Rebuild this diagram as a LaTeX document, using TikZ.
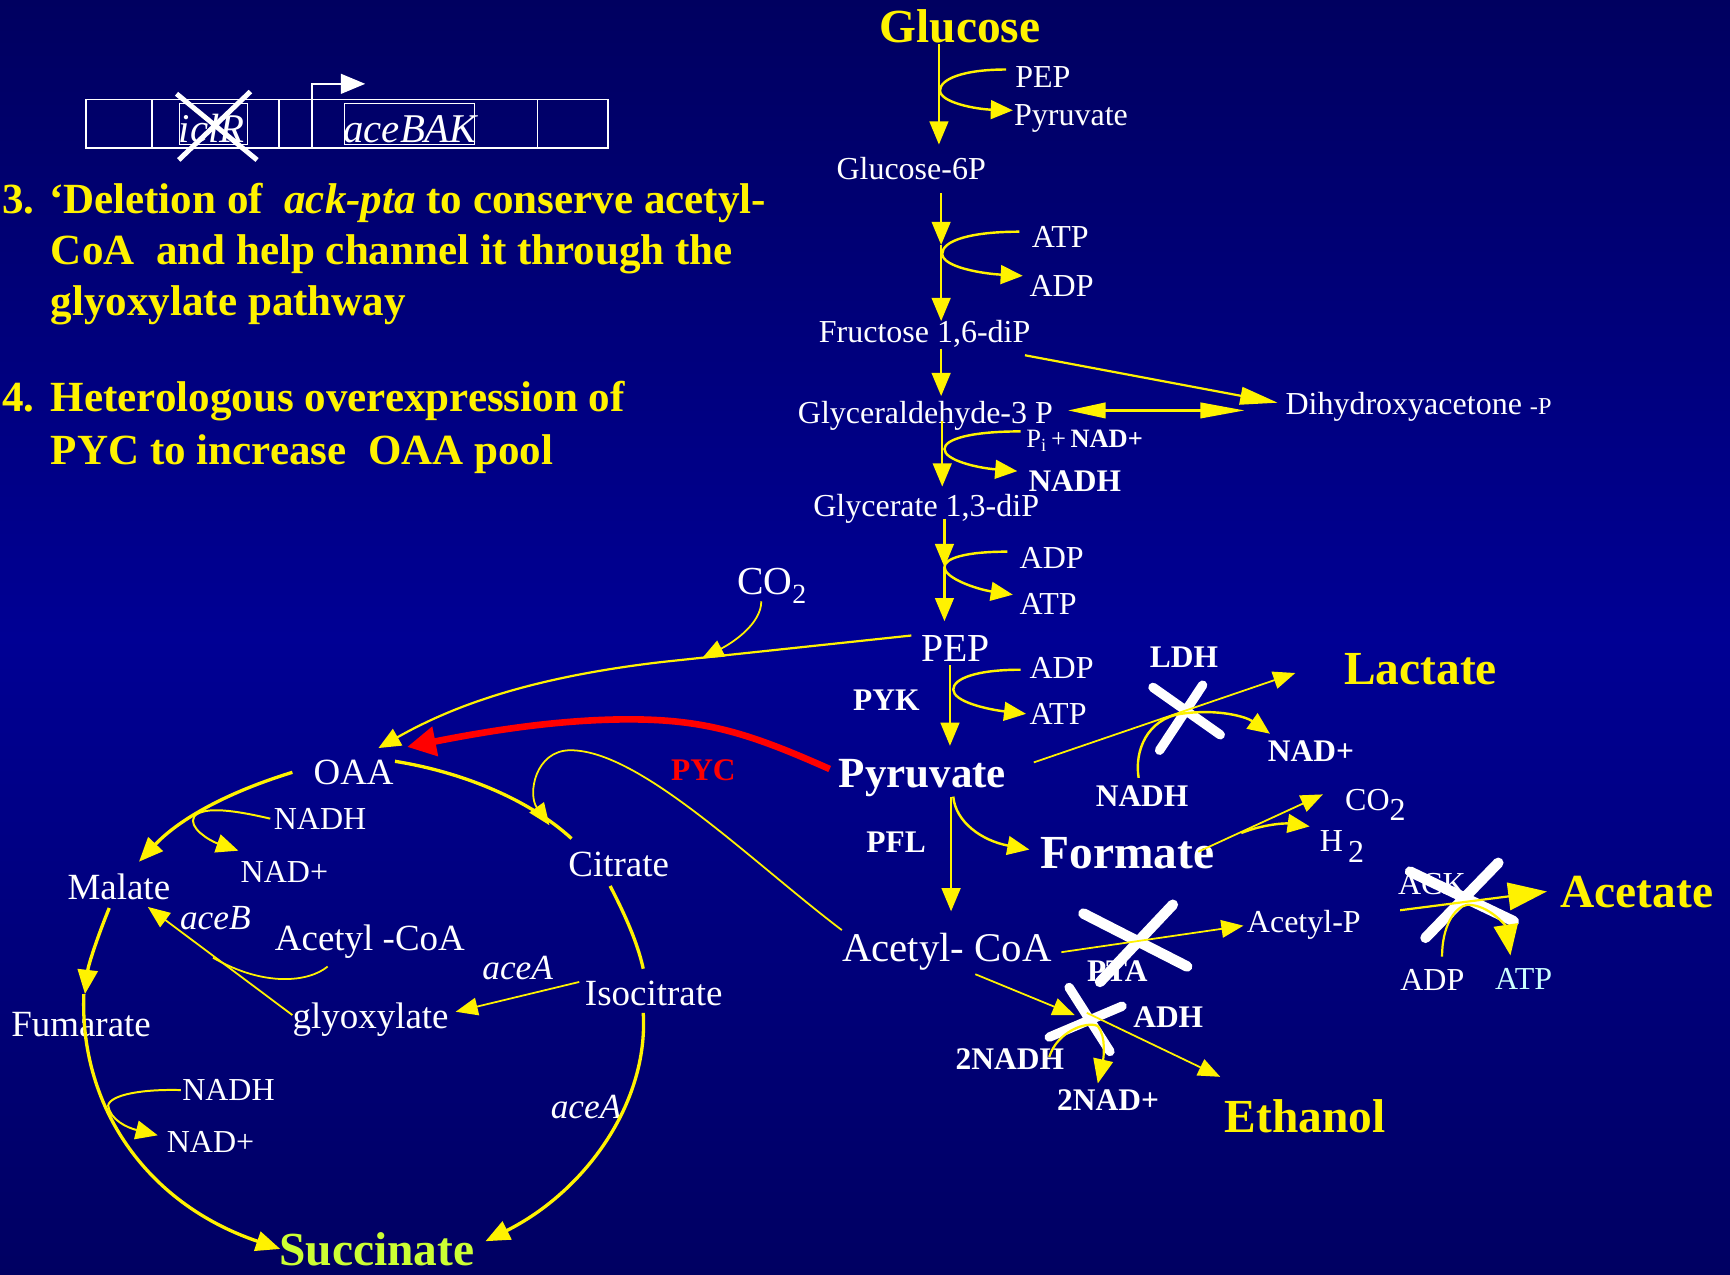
\documentclass[tikz,border=0pt]{standalone}
\usepackage{fontspec}
\setmainfont{Liberation Serif}
\usetikzlibrary{arrows.meta}
\newcommand\myfs[1]{\fontsize{#1}{#1}\selectfont}
\definecolor{bgtop}{RGB}{0,0,96}
\definecolor{bgmid}{RGB}{0,0,148}
\definecolor{bgbot}{RGB}{0,0,98}
\definecolor{succ}{RGB}{204,255,51}
\definecolor{atpc}{RGB}{204,255,255}
\begin{document}
\begin{tikzpicture}[x=1pt,y=-1pt,
  every node/.style={anchor=west,inner sep=0pt,text height=.66em,text depth=0pt},
  fz/.style n args={2}{font=\myfs{#1}#2,yshift={-(0.33*#1-3.3)*1pt}},
  lab/.style={text=white,fz={29}{}},
  labb/.style={text=white,fz={28.5}{\bfseries}},
  mid/.style={text=white,fz={33.5}{}},
  itl/.style={text=white,fz={32}{\itshape}},
  big/.style={text=yellow,fz={43}{\bfseries}},
  note/.style={text=yellow,fz={39}{\bfseries}},
  ar/.style={draw=yellow,line width=2pt,-{Triangle[length=21pt,width=17pt]}},
  sidear/.style={draw=yellow,line width=2.2pt,-{Triangle[length=20pt,width=17pt]}},
  thinln/.style={draw=yellow,line width=1.6pt},
  thinar/.style={thinln,-{Triangle[length=20pt,width=16pt]}},
  thickln/.style={draw=yellow,line width=3pt},
  thickar/.style={thickln,-{Triangle[length=22pt,width=18pt]}},
  knock/.style={draw=white,line width=8.5pt,line cap=round},
  gene/.style={draw=white,line width=1.4pt},
]
\useasboundingbox (0,0) rectangle (1568,1155);
\shade[top color=bgtop,bottom color=bgbot,middle color=bgmid] (0,0) rectangle (1568,1155);

% ---------------- notes ----------------
\node[note] (n3a) at (2,181) {3. ‘Deletion of\ \ \textit{ack-pta} to conserve acetyl-};
\node[note] (n3b) at (46,227) {CoA\ \ and help channel it through the};
\node[note] (n3c) at (46,273) {glyoxylate pathway};
\node[note] (n4n) at (2,360) {4.};
\node[note] (n4a) at (46,360) {Heterologous overexpression of};
\node[note] (n4b) at (46,408) {PYC to increase\ \ OAA pool};

% ---------------- gene box ----------------
\draw[gene] (78,90) rectangle (551,134);
\foreach \x in {138,253,283,487} \draw[gene] (\x,90) -- (\x,134);
\draw[gene,line width=1pt] (163,94) rectangle (224,131);
\draw[gene,line width=1pt] (312,94) rectangle (430,131);
\node[text=white,fz={37}{\itshape}] (icl) at (162,117) {iclR};
\node[text=white,fz={37}{\itshape}] (ace) at (311,117) {aceBAK};
\draw[gene,-{Triangle[length=22pt,width=18pt]}] (283,90) -- (283,76) -- (331,76);
\draw[white,line width=4.5pt] (160,85) -- (233,145) (227,83) -- (162,145);

% ---------------- glycolysis text ----------------
\node[big] (glc) at (797,24) {Glucose};
\node[lab] (pep1) at (920,70) {PEP};
\node[lab] (pyr1) at (919,104) {Pyruvate};
\node[lab] (g6p) at (758,153) {Glucose-6P};
\node[lab] (atp1) at (935,215) {ATP};
\node[lab] (adp1) at (933,259) {ADP};
\node[lab] (f16) at (742,301) {Fructose 1,6-diP};
\node[lab] (g3p) at (723,374) {Glyceraldehyde-3 P};
\node[lab] (dhap) at (1165,366) {Dihydroxyacetone {\myfs{22}-P}};
\node[text=white,fz={24}{}] (pi) at (930,398) {P\textsubscript{i}\,+\,\textbf{NAD+}};
\node[labb] (nadh1) at (932,436) {NADH};
\node[lab] (g13) at (737,459) {Glycerate 1,3-diP};
\node[lab] (adp2) at (924,506) {ADP};
\node[lab] (atp2) at (924,547) {ATP};
\node[text=white,fz={36}{}] (co2a) at (668,527) {CO\textsubscript{2}};
\node[text=white,fz={36}{}] (pep) at (835,588) {PEP};
\node[lab] (adp3) at (933,605) {ADP};
\node[lab] (atp3) at (933,647) {ATP};
\node[labb] (pyk) at (773,635) {PYK};
\node[text=white,fz={39}{\bfseries}] (pyr) at (760,701) {Pyruvate};
\node[text=red,fz={28.5}{\bfseries}] (pyc) at (608,698) {PYC};
\node[labb] (ldh) at (1042,596) {LDH};
\node[big] (lac) at (1218,606) {Lactate};
\node[labb] (nadp1) at (1149,681) {NAD+};
\node[labb] (nadh2) at (993,722) {NADH};
\node[lab] (co2b) at (1219,725) {CO\raisebox{-.3em}{2}};
\node[lab] (h2) at (1196,762) {H\,\raisebox{-.35em}{2}};
\node[labb] (pfl) at (785,763) {PFL};
\node[text=white,fz={43}{\bfseries}] (form) at (943,773) {Formate};
\node[text=white,fz={37}{}] (accoa) at (763,859) {Acetyl- CoA};
\node[labb] (pta) at (985,880) {PTA};
\node[lab] (acp) at (1130,836) {Acetyl-P};
\node[labb] (adh) at (1027,922) {ADH};
\node[labb] (nadh3) at (866,960) {2NADH};
\node[labb] (nadp3) at (958,997) {2NAD+};
\node[big] (eth) at (1110,1012) {Ethanol};
\node[lab] (ack) at (1267,801) {ACK};
\node[lab] (adp4) at (1269,888) {ADP};
\node[lab,text=atpc] (atp4) at (1355,887) {ATP};
\node[big] (acet) at (1414,808) {Acetate};

% ---------------- TCA text ----------------
\node[mid] (oaa) at (284,700) {OAA};
\node[lab] (nadh4) at (248,742) {NADH};
\node[lab] (nadp4) at (218,790) {NAD+};
\node[mid] (mal) at (61,804) {Malate};
\node[mid] (cit) at (515,783) {Citrate};
\node[itl] (aceb) at (163,832) {aceB};
\node[mid] (accoa2) at (249,850) {Acetyl -CoA};
\node[itl] (acea1) at (437,877) {aceA};
\node[mid] (iso) at (530,900) {Isocitrate};
\node[mid] (glx) at (265,921) {glyoxylate};
\node[mid] (fum) at (10,928) {Fumarate};
\node[lab] (nadh5) at (165,988) {NADH};
\node[lab] (nadp5) at (151,1035) {NAD+};
\node[itl] (acea2) at (499,1003) {aceA};
\node[text=succ,fz={43}{\bfseries}] (suc) at (253,1133) {Succinate};

% ---------------- knock-outs ----------------
\draw[knock] (1045,623) -- (1106,666) (1090,621) -- (1051,680);
\draw[knock,line width=9.5pt] (982,828) -- (1076,876) (1063,820) -- (997,890);
\draw[knock] (969,895) -- (1006,953) (1017,912) -- (951,940);
\draw[knock,line width=9.5pt] (1278,790) -- (1372,835) (1358,782) -- (1292,850);

% ---------------- glycolysis connectors ----------------
\draw[ar] (851,40) -- (851,131);
\draw[sidear] (912,63) .. controls (872,63) and (852,72) .. (852,82) .. controls (852,93) and (885,99) .. (918,100);
\draw[ar] (853,175) -- (853,222);
\draw[ar] (853,222) -- (853,291);
\draw[sidear] (924,210) .. controls (880,210) and (854,218) .. (854,230) .. controls (854,242) and (890,248) .. (927,250);
\draw[ar] (853,316) -- (853,359);
\draw[draw=yellow,line width=2pt,-{Triangle[length=34pt,width=16pt]}] (929,322) -- (1158,365);
\draw[draw=yellow,line width=2.2pt,{Triangle[length=34pt,width=14pt]}-{Triangle[length=40pt,width=14pt]}] (968,372) -- (1128,372);
\draw[ar] (854,382) -- (854,441);
\draw[sidear] (925,391) .. controls (880,391) and (856,398) .. (856,407) .. controls (856,417) and (885,424) .. (922,427);
\draw[ar] (856,470) -- (856,514);
\draw[ar] (856,514) -- (856,563);
\draw[sidear] (913,500) .. controls (875,500) and (856,506) .. (856,514) .. controls (856,524) and (885,534) .. (918,539);
\draw[ar] (861,603) -- (861,676);
\draw[sidear] (925,607) .. controls (885,607) and (864,615) .. (864,625) .. controls (864,636) and (895,643) .. (930,647);

% PEP -> OAA and CO2
\draw[draw=yellow,line width=2pt,-{Triangle[length=20pt,width=17pt]}] (826,576) -- (600,600) .. controls (480,614) and (410,640) .. (343,678);
\draw[thinar] (690,545) .. controls (690,565) and (665,582) .. (636,597);

% PYC
\draw[red,line width=6pt,-{Triangle[length=26pt,width=26pt]}] (752,697) .. controls (680,665) and (640,652) .. (570,652) .. controls (500,652) and (430,665) .. (369,677);

% LDH
\draw[thinar] (937,691) -- (1174,610);
\draw[sidear] (1032,705) .. controls (1028,680) and (1040,652) .. (1070,647) .. controls (1105,642) and (1130,650) .. (1151,665);

% PFL
\draw[sidear] (864,722) .. controls (866,745) and (890,762) .. (933,770);
\draw[ar] (862,722) -- (862,826);
\draw[thinar] (1086,772) -- (1199,720);
\draw[sidear] (1125,755) .. controls (1145,747) and (1165,746) .. (1187,749);

% PTA / ACK
\draw[thinar] (962,863) -- (1127,839);
\draw[draw=yellow,line width=2pt,-{Triangle[length=35pt,width=25pt]}] (1269,825) -- (1402,808);
\draw[draw=yellow,line width=2pt,-{Triangle[length=28pt,width=22pt]}] (1307,867) .. controls (1307,840) and (1318,822) .. (1330,820) .. controls (1350,820) and (1365,840) .. (1369,866);

% ADH
\draw[thinar] (884,883) -- (974,920);
\draw[thinar] (985,918) -- (1106,976);
\draw[draw=yellow,line width=2pt,-{Triangle[length=22pt,width=18pt]}] (951,958) .. controls (958,935) and (985,925) .. (995,930) .. controls (1003,940) and (1000,960) .. (995,982);

% ---------------- TCA connectors ----------------
\draw[thickar] (265,700) .. controls (200,720) and (160,745) .. (126,781);
\draw[sidear,line width=1.8pt] (245,742) .. controls (215,735) and (185,730) .. (176,740) .. controls (170,750) and (190,762) .. (216,771);
\draw[thickln] (358,690) .. controls (420,700) and (480,725) .. (518,760);
\draw[thinar] (763,843) .. controls (680,780) and (580,680) .. (517,680) .. controls (485,680) and (478,720) .. (498,748);
\draw[thickln] (553,803) .. controls (567,830) and (578,855) .. (583,878);
\draw[thickar] (583,918) .. controls (588,1000) and (530,1080) .. (440,1125);
\draw[thinar] (525,890) -- (413,917);
\draw[thinar] (265,920) -- (134,822);
\draw[thinln] (297,876) .. controls (280,890) and (240,895) .. (193,868);
\draw[thickar] (99,823) .. controls (88,850) and (80,875) .. (77,901);
\draw[thickar] (76,901) .. controls (72,1000) and (130,1090) .. (254,1132);
\draw[sidear,line width=1.8pt] (164,988) .. controls (130,987) and (100,992) .. (98,1002) .. controls (100,1015) and (115,1022) .. (143,1029);
\end{tikzpicture}
\end{document}
